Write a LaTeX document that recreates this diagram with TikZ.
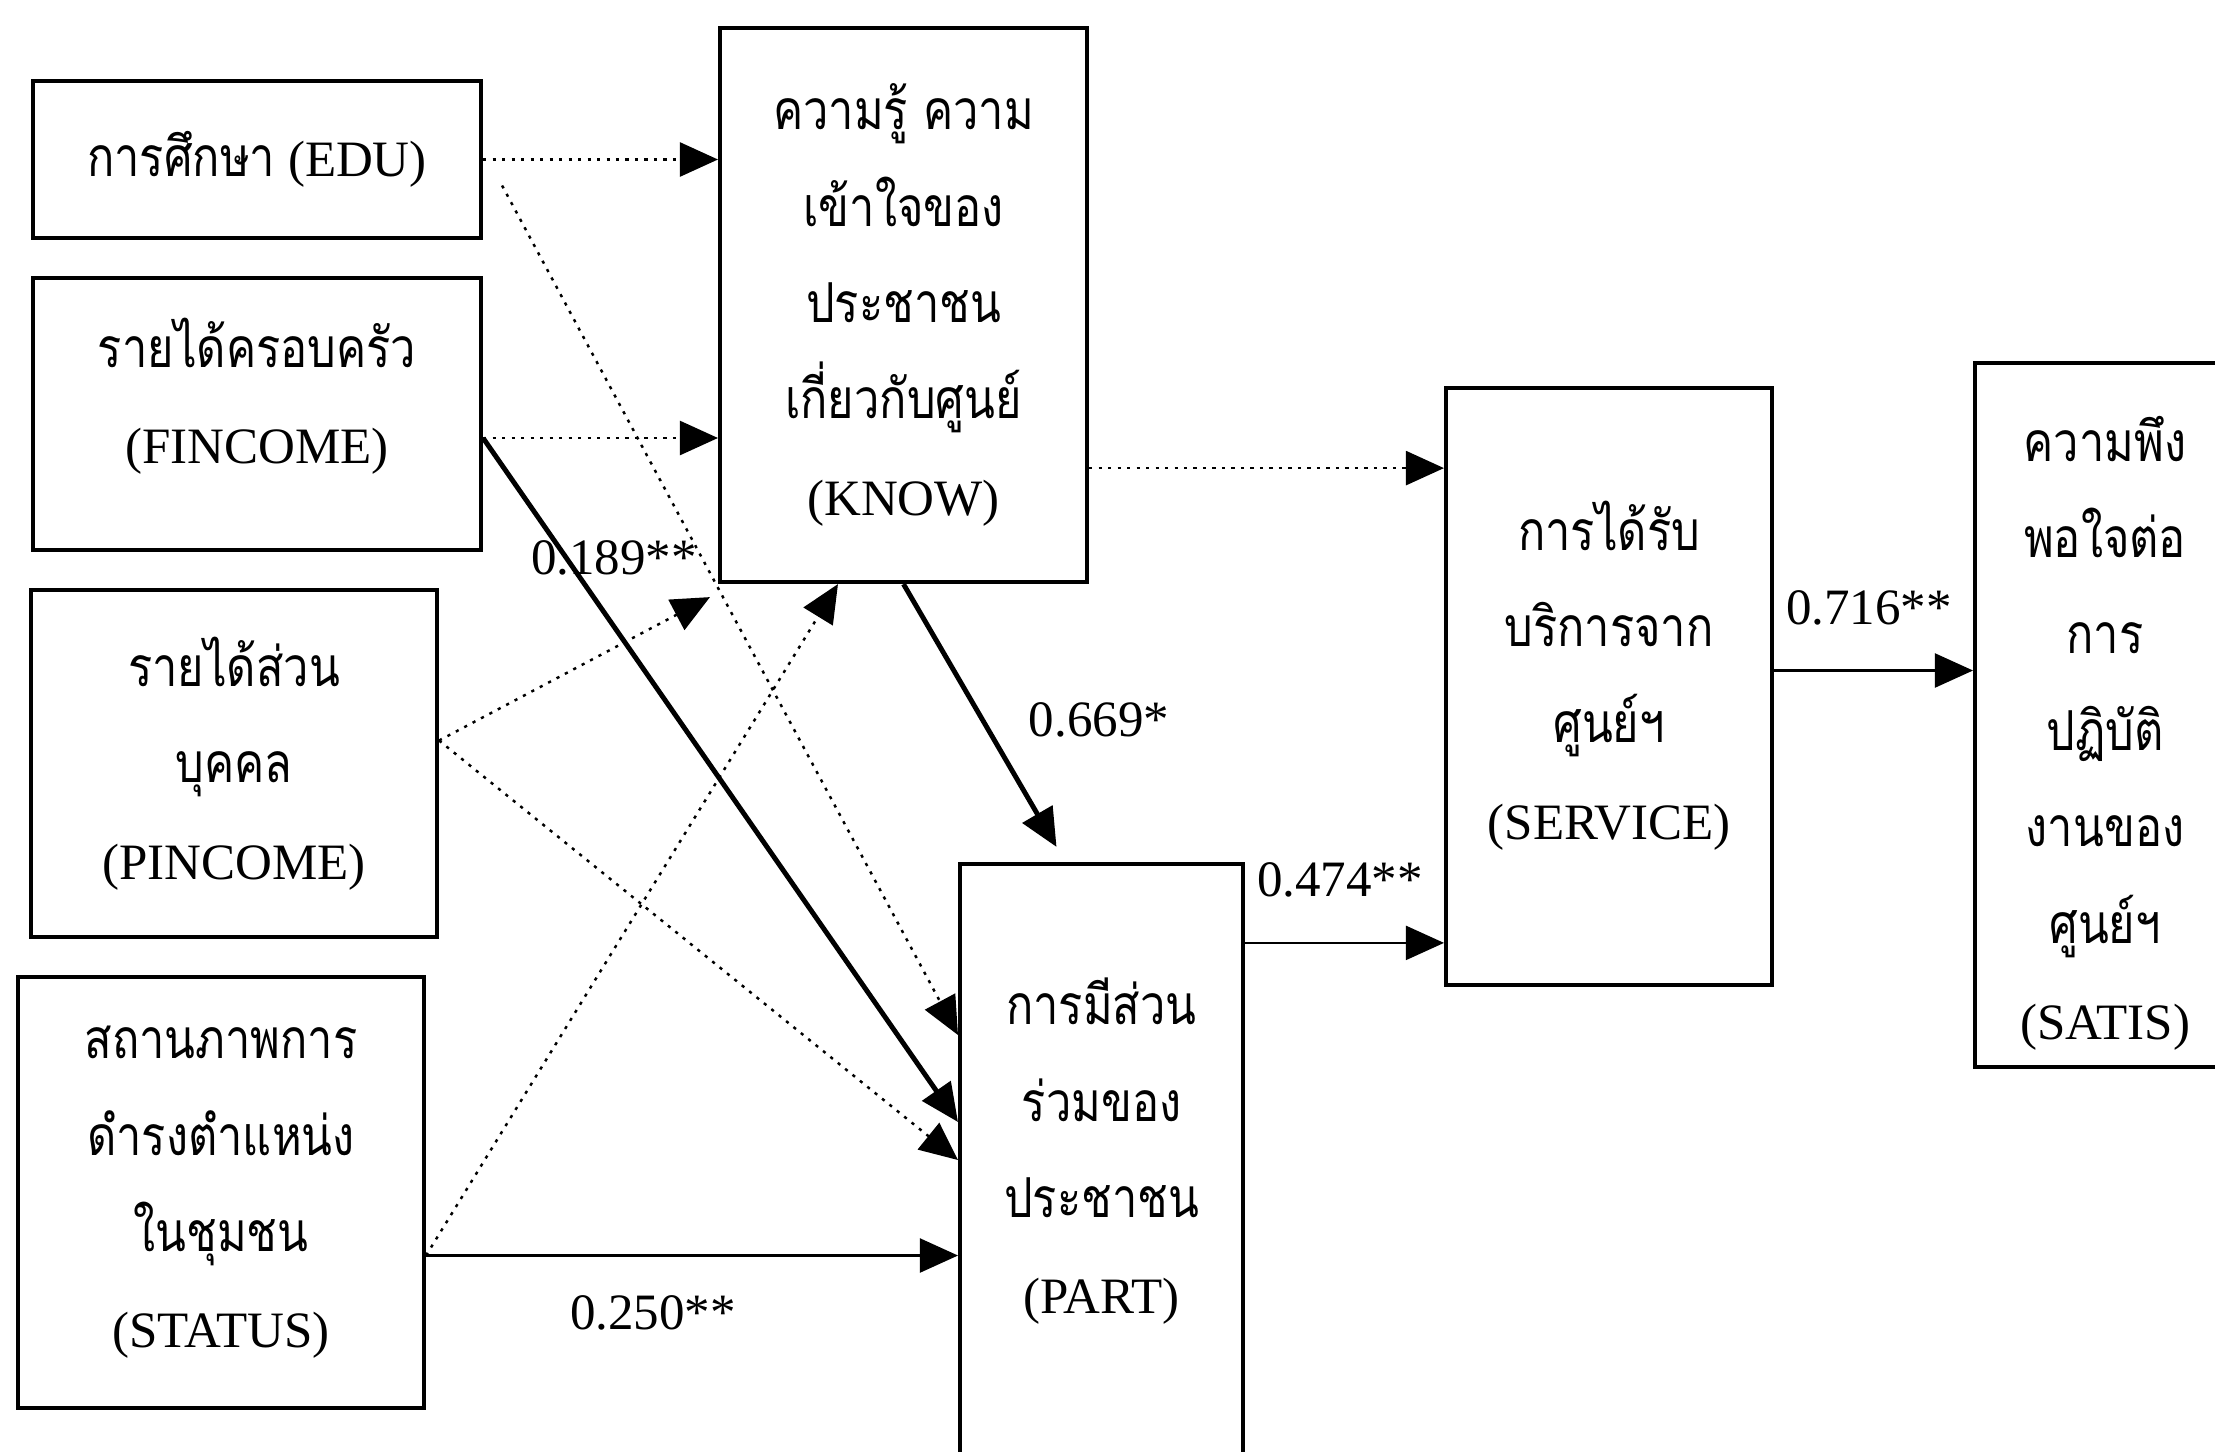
\documentclass[tikz,border=0pt]{standalone}
\usepackage{fontspec}
\setmainfont{Liberation Serif}
\newfontfamily\thaifont[Script=Thai, Scale=1.08, FakeStretch=0.82]{Loma}
\usetikzlibrary{arrows.meta,calc}
\newcommand{\thtxt}[1]{{\thaifont #1}}
\newcommand{\liftlines}[2]{\raisebox{#1}[\height][\depth]{\begin{tabular}{@{}c@{}}#2\end{tabular}}}

\begin{document}
\begin{tikzpicture}[x=0.01cm, y=-0.01cm,
  var/.style={draw, line width=1.1pt, inner sep=0pt, align=center, font=\fontsize{14.5}{27.4}\selectfont},
  coef/.style={font=\fontsize{14.5}{17}\selectfont, inner sep=1pt},
  tip/.style={-{Triangle[length=3.8mm, width=3.4mm]}},
  dotarrow/.style={tip, line width=0.7pt, dash pattern=on 0.9pt off 1.8pt},
  solarrow/.style={tip, line width=0.6pt},
  boldarrow/.style={tip, line width=1.4pt}]
\useasboundingbox (0,0) rectangle (2215,1451);
% variables
\node[var, minimum width=4.48cm, minimum height=1.57cm] (edu) at (257,159.5) {\thtxt{การศึกษา} (EDU)};
\node[var, minimum width=4.48cm, minimum height=2.72cm] (finc) at (257,414) {\liftlines{1.8mm}{\thtxt{รายได้ครอบครัว}\\(FINCOME)}};
\node[var, minimum width=4.06cm, minimum height=3.47cm] (pinc) at (234,763.5) {\thtxt{รายได้ส่วน}\\\thtxt{บุคคล}\\(PINCOME)};
\node[var, minimum width=4.06cm, minimum height=4.31cm] (stat) at (221,1192.5) {\thtxt{สถานภาพการ}\\\thtxt{ดำรงตำแหน่ง}\\\thtxt{ในชุมชน}\\(STATUS)};
\node[var, minimum width=3.67cm, minimum height=5.54cm] (know) at (903.5,305) {\thtxt{ความรู้ ความ}\\\thtxt{เข้าใจของ}\\\thtxt{ประชาชน}\\\thtxt{เกี่ยวกับศูนย์}\\(KNOW)};
\node[var, minimum width=2.83cm, minimum height=5.92cm] (part) at (1101.5,1160) {\liftlines{1mm}{\thtxt{การมีส่วน}\\\thtxt{ร่วมของ}\\\thtxt{ประชาชน}\\(PART)}};
\node[var, minimum width=3.26cm, minimum height=5.97cm] (serv) at (1609,686.5) {\liftlines{1.1mm}{\thtxt{การได้รับ}\\\thtxt{บริการจาก}\\\thtxt{ศูนย์ฯ}\\(SERVICE)}};
\node[var, minimum width=2.60cm, minimum height=7.04cm] (satis) at (2105,715) {\liftlines{-1.6mm}{\thtxt{ความพึง}\\\thtxt{พอใจต่อ}\\\thtxt{การ}\\\thtxt{ปฏิบัติ}\\\thtxt{งานของ}\\\thtxt{ศูนย์ฯ}\\(SATIS)}};
% start points of the paths
\coordinate (eout) at ($(edu.east)+(19,26)$);
\coordinate (fout) at ($(finc.east)+(0,24)$);
\coordinate (pout) at ($(pinc.east)+(0,-23)$);
\coordinate (sout) at ($(stat.east)+(0,63)$);
\coordinate (kout) at ($(know.south east)+(0,-116)$);
\coordinate (aout) at ($(part.north east)+(0,81)$);
\coordinate (vout) at ($(serv.east)+(0,-16)$);
% paths
\draw[dotarrow] (edu.east) -- (edu.east -| know.west);
\draw[dotarrow] (eout) -- ($(part.west)+(0,-125)$);
\draw[dotarrow] (fout) -- (fout -| know.west);
\draw[boldarrow] (fout) -- ($(part.west)+(0,-38)$);
\draw[dotarrow] (pout) -- ($(know.south west)+(-8,13)$);
\draw[dotarrow] (pout) -- (part.west);
\draw[dotarrow] (sout) -- ($(know.south west)+(120,0)$);
\draw[solarrow] (sout) -- (sout -| part.west);
\draw[boldarrow] (know.south) -- ($(part.north)+(-45,-15)$);
\draw[dotarrow] (kout) -- (kout -| serv.west);
\draw[solarrow] (aout) -- (aout -| serv.west);
\draw[solarrow] (vout) -- (vout -| satis.west);
% coefficients
\foreach \nm/\x/\y/\val in {c189/614/558/0.189**, c669/1099/720/0.669*, c474/1340/880/0.474**,
  c716/1869/608/0.716**, c250/653/1313/0.250**}
  \node[coef] (\nm) at (\x,\y) {\val};
\end{tikzpicture}
\end{document}
